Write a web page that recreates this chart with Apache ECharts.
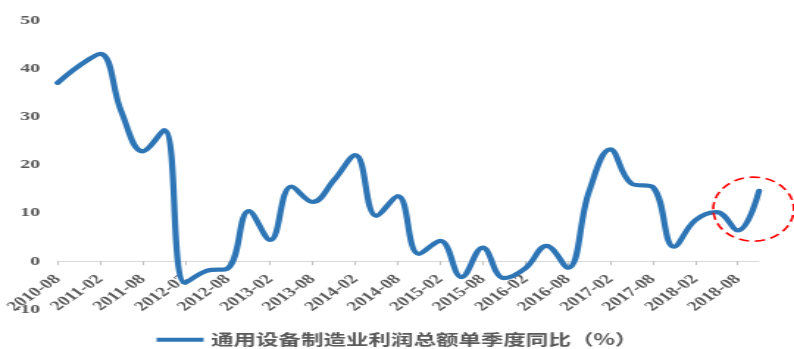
<!DOCTYPE html>
<html>
<head>
<meta charset="utf-8">
<script src="https://cdn.jsdelivr.net/npm/echarts@6/dist/echarts.min.js"></script>
<style>
  html, body { margin: 0; padding: 0; background: #fff; overflow: hidden; }
  #wrap { width: 794px; height: 349px; overflow: hidden; }
  /* chart is laid out narrow, then widened horizontally */
  #chart { width: 540px; height: 349px; transform: scaleX(1.4704); transform-origin: 0 0; }
</style>
</head>
<body>
<div id="wrap"><div id="chart"></div></div>
<script>
const quarters = [
  '2010-08','2010-11','2011-02','2011-05','2011-08','2011-11',
  '2012-02','2012-05','2012-08','2012-11','2013-02','2013-05',
  '2013-08','2013-11','2014-02','2014-05','2014-08','2014-11',
  '2015-02','2015-05','2015-08','2015-11','2016-02','2016-05',
  '2016-08','2016-11','2017-02','2017-05','2017-08','2017-11',
  '2018-02','2018-05','2018-08','2018-11'
];
const profitYoY = [
  37, 40.5, 43, 31, 22.8, 27.2,
  -4.5, -2, -1.5, 10.4, 4.4, 15.5,
  12.3, 16.8, 22, 9.4, 13.5, 1.5,
  4.2, -3.3, 2.8, -3.5, -1.5, 3.2,
  -1.4, 14.4, 23.2, 16.1, 15.4, 3.0,
  8.5, 10.2, 6.4, 14.6
];
const seriesName = '通用设备制造业利润总额单季度同比（%）';
const yTicks = { min: -10, max: 50, interval: 10 };
// highlighted stretch at the end of the series (category position, value)
const highlight = { at: 32.74, value: 10.8 };

const gridBox = { left: 39.2, right: 23.8, top: 20.2, bottom: 39.6 };
const plotHeight = 349 - gridBox.top - gridBox.bottom;
// category axis sits on the zero line, labels hanging below it
const zeroOffset = -plotHeight * (0 - yTicks.min) / (yTicks.max - yTicks.min);

const labelFont = { fontFamily: '"Liberation Serif", "Times New Roman", serif', fontWeight: 'bold', fontSize: 13.5, color: '#595959' };

const chart = echarts.init(document.getElementById('chart'), null, { renderer: 'canvas' });
chart.setOption({
  animation: false,
  backgroundColor: '#fff',
  grid: Object.assign({ containLabel: false, outerBoundsMode: 'none' }, gridBox),
  legend: {
    top: 332,
    left: 'center',
    padding: 0,
    icon: 'rect',
    itemWidth: 32,
    itemHeight: 4,
    itemGap: 10,
    textStyle: { fontFamily: '"Noto Sans CJK SC", sans-serif', fontSize: 15.3, color: '#595959', fontWeight: 'bold' },
    data: [seriesName]
  },
  xAxis: {
    type: 'category',
    data: quarters,
    boundaryGap: false,
    offset: zeroOffset,
    axisLine: { onZero: false, lineStyle: { color: '#D9D9D9', width: 1 } },
    axisTick: { show: true, interval: 1, length: 4, lineStyle: { color: '#BFBFBF' } },
    axisLabel: Object.assign({ interval: 1, rotate: 45, margin: 16 }, labelFont),
    splitLine: { show: false }
  },
  yAxis: {
    type: 'value',
    min: yTicks.min,
    max: yTicks.max,
    interval: yTicks.interval,
    axisLine: { show: false },
    axisTick: { show: false },
    splitLine: { show: false },
    axisLabel: Object.assign({ margin: 12 }, labelFont)
  },
  series: [{
    name: seriesName,
    type: 'line',
    data: profitYoY,
    smooth: 0.4,
    symbol: 'none',
    lineStyle: { color: '#2E75B6', width: 4.2, cap: 'round', join: 'round' },
    itemStyle: { color: '#2E75B6' }
  }]
});

// dashed ellipse marking the latest quarters
const p0 = chart.convertToPixel({ seriesIndex: 0 }, [Math.floor(highlight.at), highlight.value]);
const p1 = chart.convertToPixel({ seriesIndex: 0 }, [Math.floor(highlight.at) + 1, highlight.value]);
const cx = p0[0] + (p1[0] - p0[0]) * (highlight.at - Math.floor(highlight.at));
chart.setOption({
  graphic: [{
    type: 'ellipse',
    shape: { cx: cx, cy: p0[1], rx: 27.4, ry: 32 },
    style: { fill: null, stroke: '#FF0000', lineWidth: 1.6, lineDash: [7, 4] },
    z: 10
  }]
});
</script>
</body>
</html>
